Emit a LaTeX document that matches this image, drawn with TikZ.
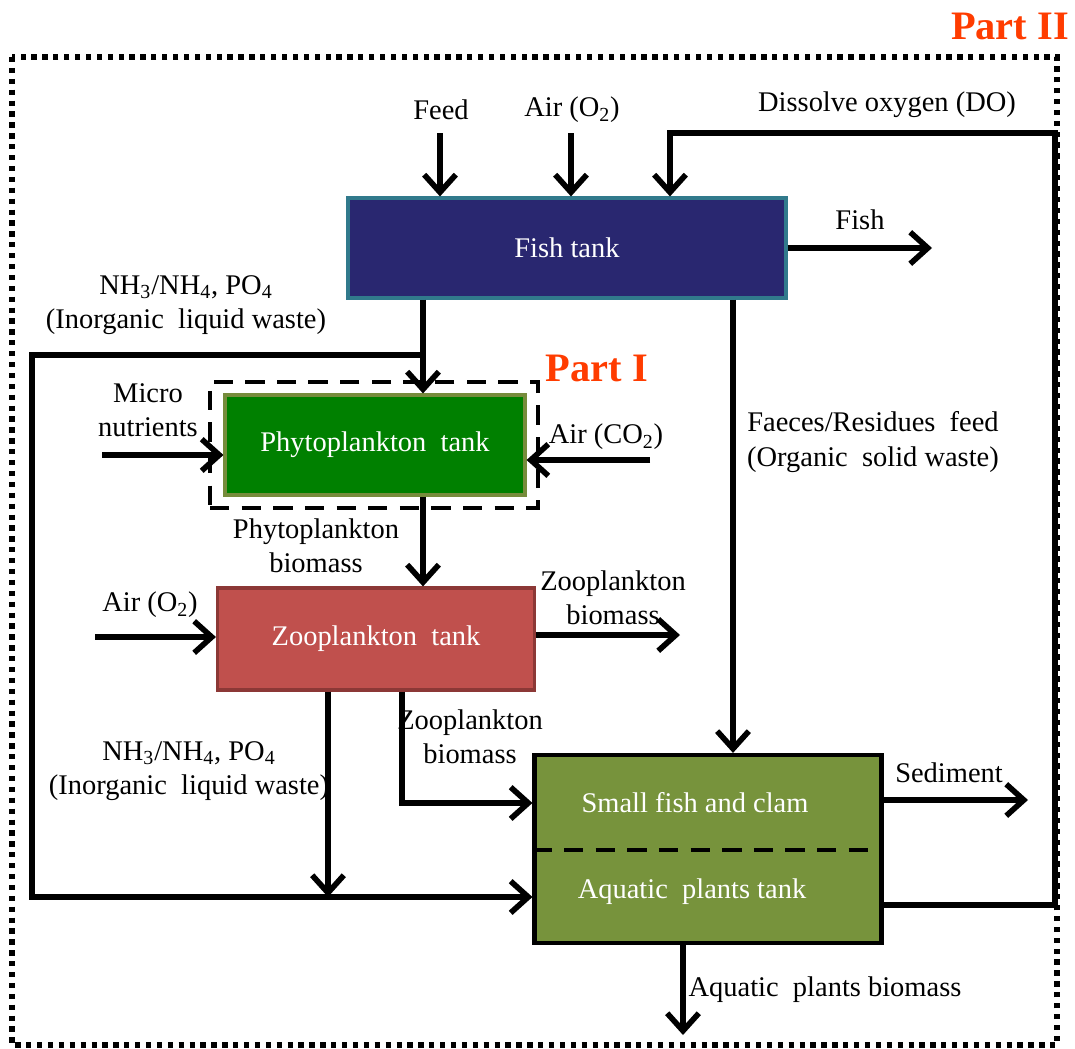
\documentclass[tikz,border=0pt]{standalone}
\usepackage{fontspec}
\setmainfont{Liberation Serif}
\usetikzlibrary{arrows.meta}

\definecolor{fishfill}{RGB}{41,39,112}
\definecolor{fishline}{RGB}{49,122,140}
\definecolor{phytofill}{RGB}{0,128,0}
\definecolor{phytoline}{RGB}{119,140,60}
\definecolor{zoofill}{RGB}{192,80,77}
\definecolor{zooline}{RGB}{140,56,54}
\definecolor{aquafill}{RGB}{119,147,60}
\definecolor{partcol}{RGB}{255,60,0}

\tikzset{
  flow/.style={line width=3.2pt, -{Straight Barb[length=10pt,width=18pt,line width=3.2pt]}},
  tank/.style={draw, rectangle, text=white, line width=1.8pt},
  lbl/.style={align=center, inner sep=1pt},
  parttxt/.style={text=partcol, font=\fontsize{23}{26}\selectfont\bfseries}
}

\begin{document}
\begin{tikzpicture}[x=0.02cm, y=-0.02cm, every node/.style={font=\fontsize{16.2}{19.5}\selectfont}]
    \useasboundingbox (0,0) rectangle (1075,1048);
    % frames
    \draw[line width=3pt, dash pattern=on 3pt off 3.2pt] (12,57) rectangle (1057,1045);
    \node[parttxt] (part2) at (1010,26) {Part II};
    \node[draw, line width=2.6pt, dash pattern=on 11pt off 7pt, minimum width=6.56cm, minimum height=2.52cm] (part1box) at (374,445) {};
    \node[parttxt] (part1) at (597,368) {Part I};

    % tanks
    \node[tank, fill=fishfill, draw=fishline, minimum width=8.76cm, minimum height=2cm] (fish) at (567,248) {Fish tank};
    \node[tank, fill=phytofill, draw=phytoline, minimum width=6cm, minimum height=2cm] (phyto) at (375,445) {Phytoplankton\ \ tank};
    \node[tank, fill=zoofill, draw=zooline, minimum width=6.34cm, minimum height=2.04cm] (zoo) at (376,639) {Zooplankton\ \ tank};
    \node[tank, fill=aquafill, draw=black, line width=2.4pt, minimum width=6.94cm, minimum height=3.76cm] (aqua) at (708,849) {};
    \draw[line width=2.6pt, dash pattern=on 11pt off 7pt] (aqua.west |- 0,850) -- (aqua.east |- 0,850);
    \node[text=white] (smallfish) at (695,803) {Small fish and clam};
    \node[text=white] (plants) at (692,892) {Aquatic\ \ plants\ tank};

    % labels
    \node[lbl] (feed) at (441,110) {Feed};
    \node[lbl] (airfish) at (572,110) {Air (O\textsubscript{2})};
    \node[lbl] (do) at (887,105) {Dissolve oxygen (DO)};
    \node[lbl] (fishout) at (860,220) {Fish};
    \node[lbl] (nhtop) at (186,305) {NH\textsubscript{3}/NH\textsubscript{4}, PO\textsubscript{4}\\(Inorganic\ \ liquid waste)};
    \node[lbl] (micro) at (148,410) {Micro\\nutrients};
    \node[lbl] (airco) at (606,437) {Air (CO\textsubscript{2})};
    \node[lbl] (phytobio) at (316,546) {Phytoplankton\\biomass};
    \node[lbl] (airzoo) at (150,605) {Air (O\textsubscript{2})};
    \node[lbl] (zoobio) at (613,598) {Zooplankton\\biomass};
    \node[lbl] (zoobio2) at (470,737) {Zooplankton\\biomass};
    \node[lbl] (nhlow) at (189,771) {NH\textsubscript{3}/NH\textsubscript{4}, PO\textsubscript{4}\\(Inorganic\ \ liquid waste)};
    \node[lbl] (faeces) at (873,442) {Faeces/Residues\ \ feed\\(Organic\ \ solid waste)};
    \node[lbl] (sediment) at (949,773) {Sediment};
    \node[lbl] (plantbio) at (825,990) {Aquatic\ \ plants\ biomass};

    % free ends
    \coordinate (feedin) at (440,133);
    \coordinate (airin) at (571,133);
    \coordinate (docorner) at (1055,133);
    \coordinate (fishend) at (932,248);
    \coordinate (nhjoin) at (423,355);
    \coordinate (microin) at (102,455);
    \coordinate (coin) at (650,460);
    \coordinate (oin) at (95,637);
    \coordinate (zooend) at (680,635);
    \coordinate (nhdrop) at (328,897);
    \coordinate (sedend) at (1028,800);
    \coordinate (plantend) at (683,1035);

    % connectors
    \draw[flow] (feedin) -- (feedin |- fish.north);
    \draw[flow] (airin) -- (airin |- fish.north);
    \draw[flow] (aqua.east |- 0,905) -| (docorner) -| (fish.north -| 670,0);
    \draw[flow] (fish.east) -- (fishend);
    \draw[flow] (fish.south -| nhjoin) -- (phyto.north -| nhjoin);
    \draw[flow] (nhjoin) -| (32,897) -- (aqua.west |- 0,897);
    \draw[flow] (microin) -- (phyto.west |- microin);
    \draw[flow] (coin) -- (phyto.east |- coin);
    \draw[flow] (phyto.south -| nhjoin) -- (zoo.north -| nhjoin);
    \draw[flow] (oin) -- (zoo.west |- oin);
    \draw[flow] (zoo.east |- zooend) -- (zooend);
    \draw[flow] (zoo.south -| nhdrop) -- (nhdrop);
    \draw[flow] (zoo.south -| 402,0) |- (aqua.west |- 0,803);
    \draw[flow] (fish.south -| 733,0) -- (aqua.north -| 733,0);
    \draw[flow] (aqua.east |- sedend) -- (sedend);
    \draw[flow] (aqua.south -| plantend) -- (plantend);
\end{tikzpicture}
\end{document}
